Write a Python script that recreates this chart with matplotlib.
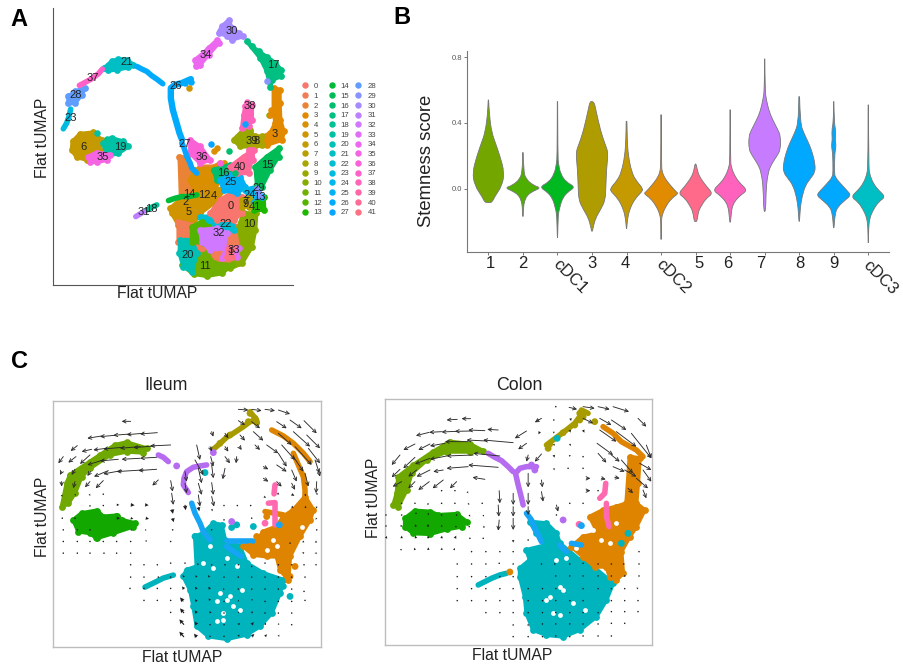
import matplotlib
matplotlib.use("Agg")
import matplotlib.pyplot as plt
from matplotlib.path import Path
from matplotlib.patches import PathPatch
import numpy as np

plt.rcParams['font.family'] = ['Liberation Sans', 'DejaVu Sans']

W, H = 904, 668

# ---- panel A: outline of each cluster (tUMAP coordinates)
A0 = [(630,640),(660,600),(700,575),(725,590),(725,640),(700,660),(650,660)]
A1 = [(535,665),(600,680),(640,670),(725,680),(745,740),(715,790),(650,815),(620,770),(590,760),(535,725)]
A2 = [(538,470),(560,475),(565,520),(580,530),(600,500),(640,500),(660,490),(650,540),(610,600),(560,610),(542,590)]
A3 = [(820,265),(838,270),(838,310),(840,360),(850,395),(845,420),(800,435),(770,420),(810,400),(825,370),(820,330)]
A4 = [(585,510),(640,505),(670,490),(660,540),(630,590),(590,590),(570,540)]
A5 = [(510,625),(540,600),(585,590),(610,590),(650,570),(680,560),(640,610),(600,640),(575,680),(535,675),(515,640)]
A6 = [(218,425),(240,402),(280,398),(305,420),(300,450),(270,462),(262,480),(230,472),(215,450)]
A7 = [(725,600),(745,595),(745,620),(725,620)]
A8 = [(765,410),(785,410),(785,435),(755,445)]
A9 = [(700,420),(730,390),(750,390),(765,420),(750,440),(720,440)]
A10 = [(730,640),(768,640),(765,690),(755,740),(725,790),(690,805),(725,735),(715,680)]
A11 = [(545,795),(575,770),(620,760),(640,790),(695,795),(665,820),(620,828),(580,822)]
A12 = [(575,680),(605,665),(625,680),(600,700),(610,730),(575,725)]
A13 = [(765,600),(790,590),(792,630),(760,630)]
A14 = [(505,602),(525,595),(545,590),(565,590),(590,585)]
A15 = [(835,445),(835,470),(810,510),(785,560),(770,555),(765,500),(800,470)]
A16 = [(640,510),(690,495),(700,530),(650,540)]
A17 = [(740,125),(755,140),(775,155),(800,172),(825,190),(842,210),(842,230),(815,240),(810,262),(800,215),(780,175)]
A18 = [(440,630),(455,622),(470,615)]
A19 = [(310,430),(335,415),(370,425),(385,440),(355,460),(320,468)]
A20 = [(540,720),(575,720),(590,760),(575,815),(550,800),(538,760)]
A21 = [(312,205),(335,185),(355,178),(380,180),(400,195),(385,203),(350,210),(325,212)]
A22 = [(600,650),(640,650),(700,655),(700,690),(640,685)]
A23 = [(190,387),(200,370),(207,350),(212,328)]
A24 = [(735,570),(770,560),(785,590),(750,600)]
A25 = [(660,540),(690,525),(720,530),(735,560),(710,580),(670,570)]
A26 = [(410,200),(425,208),(440,215),(455,228),(470,238),(488,252)]
A26b = [(572,238),(545,250),(525,255),(512,265),(512,295),(518,330),(528,365),(538,400),(545,418)]
A27 = [(545,430),(552,445),(560,470),(570,490),(575,505),(590,520)]
A28 = [(205,310),(205,290),(225,275),(255,265),(245,285),(225,310)]
A29 = [(770,565),(780,590)]
A30 = [(685,62),(695,85),(715,100),(728,110),(695,120),(680,108),(655,100),(665,80)]
A31 = [(407,650),(420,642),(430,636)]
A32 = [(600,690),(650,685),(680,700),(670,745),(630,750),(605,725)]
A33 = [(680,745),(715,745),(710,770),(665,775)]
A34 = [(588,200),(585,180),(610,160),(625,145),(650,122),(655,130),(625,165),(600,195)]
A35 = [(265,470),(290,458),(330,465),(320,480),(290,487),(270,485)]
A36 = [(570,420),(600,440),(630,480),(600,490),(570,460)]
A37 = [(238,257),(255,248),(275,237),(295,222),(307,208)]
A38 = [(735,320),(755,315),(755,360),(745,380),(725,385),(730,345)]
A39 = [(745,450),(758,450),(758,480),(745,485)]
A40 = [(690,500),(730,470),(760,450),(745,520),(710,520)]
A41 = [(685,745),(698,745),(695,770),(680,770)]
clusters_a = [A0,A1,A2,A3,A4,A5,A6,A7,A8,A9,A10,A11,A12,A13,A14,A15,A16,A17,A18,A19,A20,
              A21,A22,A23,A24,A25,A26,A27,A28,A29,A30,A31,A32,A33,A34,A35,A36,A37,A38,A39,A40,A41]
# clusters that are a thin trail of cells rather than an area
trail_clusters = [14,18,23,26,27,29,31,37]
a_draw_order = [2,4,5,1,10,11,20,22,12,32,0,33,41,16,25,40,13,24,7,9,36,15,3,8,39,38,6,19,35,17,21,28,30,34,14,18,23,26,27,29,31,37]

# loose single cells: cluster, x, y
a_loose_k = [26,26,5,4,27,4,16,18,19,19,27,29,30,10,36,3,15,3,16,38]
a_loose_x = [572,555,565,650,632,640,685,320,290,330,733,800,660,805,660,808,790,812,705,740]
a_loose_y = [248,250,265,445,432,452,452,417,400,417,373,243,95,345,490,345,510,330,520,308]

label_x = [690,690,557,823,640,566,249,737,770,737,747,613,612,778,567,801,670,818,455,361,562,380,677,211,747,690,526,553,227,775,695,430,655,700,617,307,605,279,749,755,719,763]
label_y = [617,757,605,403,587,636,440,605,425,612,671,798,586,590,583,496,520,197,627,440,765,187,672,356,586,547,258,432,285,565,95,637,699,750,167,471,472,236,320,423,500,621]

# ---- panel B: violins, score levels and half widths
groups = ["1","2","cDC1","3","4","cDC2","5","6","7","8","9","cDC3"]
violin_colors = ["#74A600","#4EAF00","#00B81F","#AE9C00","#C49A00","#E08B00",
                 "#FF6A8A","#FF62BC","#C77CFF","#00A9FF","#00A9FF","#00BFC4"]
v1_y = [0.54,0.44,0.34,0.28,0.195,0.10,0.02,-0.05,-0.085,-0.085]
v1_w = [0.005,0.03,0.10,0.20,0.34,0.46,0.40,0.18,0.10,0.0]
v2_y = [0.22,0.11,0.06,0.02,0.005,-0.015,-0.04,-0.08,-0.11,-0.17]
v2_w = [0.005,0.02,0.08,0.30,0.52,0.30,0.12,0.04,0.02,0.005]
v3_y = [0.53,0.20,0.15,0.09,0.04,0.01,-0.02,-0.06,-0.12,-0.16,-0.30]
v3_w = [0.005,0.01,0.03,0.09,0.25,0.52,0.30,0.14,0.06,0.02,0.005]
v4_y = [0.53,0.53,0.48,0.35,0.27,0.22,0.12,0.0,-0.07,-0.12,-0.18,-0.24,-0.26]
v4_w = [0.0,0.06,0.11,0.25,0.38,0.47,0.42,0.40,0.38,0.27,0.10,0.03,0.01]
v5_y = [0.41,0.30,0.20,0.10,0.05,0.0,-0.02,-0.06,-0.12,-0.18,-0.245]
v5_w = [0.01,0.02,0.05,0.15,0.27,0.48,0.44,0.25,0.10,0.03,0.005]
v6_y = [0.45,0.15,0.10,0.06,0.02,-0.02,-0.03,-0.06,-0.11,-0.16,-0.20,-0.31]
v6_w = [0.005,0.01,0.03,0.12,0.27,0.44,0.50,0.30,0.13,0.03,0.01,0.005]
v7_y = [0.15,0.15,0.10,0.06,0.01,-0.03,-0.06,-0.11,-0.14,-0.20,-0.20]
v7_w = [0.0,0.02,0.06,0.15,0.33,0.50,0.30,0.15,0.08,0.04,0.0]
v8_y = [0.48,0.18,0.13,0.07,0.03,-0.01,-0.04,-0.08,-0.12,-0.16,-0.205]
v8_w = [0.005,0.01,0.03,0.15,0.30,0.50,0.30,0.12,0.05,0.03,0.01]
v9_y = [0.79,0.60,0.54,0.47,0.42,0.36,0.32,0.24,0.20,0.15,0.10,0.0,-0.14]
v9_w = [0.005,0.01,0.05,0.13,0.23,0.38,0.46,0.46,0.36,0.20,0.10,0.04,0.03]
v10_y = [0.56,0.40,0.34,0.28,0.22,0.15,0.10,0.06,0.02,-0.05,-0.12,-0.20]
v10_w = [0.01,0.03,0.13,0.27,0.38,0.46,0.46,0.32,0.18,0.08,0.03,0.01]
v11_y = [0.53,0.41,0.35,0.30,0.26,0.22,0.10,0.07,0.03,-0.01,-0.04,-0.07,-0.11,-0.15,-0.24]
v11_w = [0.005,0.01,0.06,0.04,0.07,0.03,0.02,0.04,0.20,0.38,0.50,0.33,0.12,0.04,0.01]
v12_y = [0.51,0.13,0.08,0.03,-0.01,-0.05,-0.08,-0.13,-0.18,-0.24,-0.33]
v12_w = [0.005,0.01,0.05,0.15,0.30,0.50,0.30,0.14,0.04,0.01,0.005]
violin_y = [v1_y,v2_y,v3_y,v4_y,v5_y,v6_y,v7_y,v8_y,v9_y,v10_y,v11_y,v12_y]
violin_w = [v1_w,v2_w,v3_w,v4_w,v5_w,v6_w,v7_w,v8_w,v9_w,v10_w,v11_w,v12_w]

# ---- panel C colours
c_olive, c_green, c_purple, c_gold = "#6FA800", "#12A800", "#B56CF0", "#A89B00"
c_orange, c_blue, c_pink, c_teal = "#DE8400", "#16A4F4", "#FF69B0", "#00B4BE"

# ---- panel C: ileum areas, trails, gaps
il_areas = [("teal", [(640,520),(665,525),(675,570),(720,590),(740,640),(790,670),(850,690),(840,730),(815,790),(780,830),(740,855),(680,868),(625,860),(590,830),(580,770),(570,720),(550,680),(560,660),(590,650),(585,560),(610,550)]),
            ("olive", [(185,472),(200,400),(210,375),(270,335),(300,315),(345,285),(380,277),(440,295),(430,308),(380,305),(330,315),(270,355),(245,380),(225,430),(205,460)]),
            ("green", [(220,510),(245,490),(290,482),(310,500),(350,497),(365,510),(405,520),(400,530),(340,550),(290,565),(270,550),(235,545)]),
            ("orange", [(915,440),(940,480),(930,510),(900,560),(870,620),(865,690),(840,660),(830,620),(800,620),(760,615),(730,590),(770,575),(790,545),(830,530),(850,500),(880,480)])]
il_trails = [("purple", [(475,315),(490,322),(505,335)]),
             ("purple", [(620,345),(600,348),(580,352),(560,365),(552,385),(550,405),(565,428)]),
             ("gold", [(640,298),(655,285),(680,262),(700,250),(730,230),(750,215),(770,210),(750,185)]),
             ("orange", [(815,240),(850,258),(880,280),(910,310),(930,335)]),
             ("orange", [(880,310),(895,345),(910,380),(915,420),(915,445)]),
             ("orange", [(795,485),(850,495)]),
             ("blue", [(575,460),(585,490),(600,520),(610,545),(630,570)]),
             ("blue", [(680,590),(700,605),(725,620)]),
             ("blue", [(680,575),(760,575)]),
             ("pink", [(825,405),(822,432)]),
             ("pink", [(805,460),(825,458),(825,525)]),
             ("teal", [(435,712),(460,700),(490,685),(520,676)])]
il_dots_c = ["teal","teal","teal","teal","purple","purple","purple","olive","pink","blue",
             "orange","orange","orange","orange","orange","orange","gold","gold","gold","gold","gold","gold",
             "teal","teal","teal","green","green","olive","olive"]
il_dots_x = [615,710,695,760,530,640,695,320,795,838,
             780,750,870,885,800,770,750,765,745,770,690,660,
             585,850,870,350,290,235,215]
il_dots_y = [368,525,533,530,348,308,515,310,520,525,
             600,590,680,650,500,560,190,205,215,218,255,280,
             560,710,740,500,565,365,400]
il_gaps_x = [680,700,670,650,725,710,680,630,720,660,610,640,690,670,820,800,830,905,650]
il_gaps_y = [750,770,790,815,720,650,625,590,780,730,640,655,740,810,570,600,590,530,755]
il_arrows = [(715,178,745,180),(755,178,785,182),(795,178,825,182),(835,180,870,192),(392,214,365,214),
             (715,212,735,225),(755,215,780,235),(830,215,860,235),(870,210,905,235),(912,212,950,250),
             (472,248,420,252),(430,250,380,254),(390,252,340,256),(345,256,300,260),(305,258,262,265),
             (635,245,640,260),(675,250,685,265),(720,255,735,272),(760,245,790,272),(835,250,875,285),(880,245,930,290),(920,255,960,295),
             (512,285,450,288),(465,288,400,293),(420,290,360,295),(370,292,310,297),(320,295,280,300),(275,298,245,305),(232,287,212,303),
             (590,285,600,330),(630,290,635,305),(675,290,685,305),(718,290,725,300),(765,285,780,300),(800,285,835,310),(845,285,885,330),(885,290,935,345),(925,295,960,340),
             (190,320,175,340),(228,320,205,338),(270,315,240,342),(470,322,420,325),(420,325,365,328),(355,328,300,333),(310,330,262,345),
             (585,330,610,375),(632,320,640,350),(675,320,690,340),(710,320,708,340),(835,310,860,350),(880,320,910,365),(945,330,958,370),
             (470,358,415,362),(430,360,350,365),(365,362,310,372),(325,362,282,380),(272,365,262,378),(225,358,215,375),(185,365,180,375),
             (555,365,560,395),(595,355,605,400),(635,345,640,385),(675,355,668,388),(790,350,805,358),(830,345,860,365),(875,360,890,395),(915,370,925,410),(955,360,960,380),
             (185,395,185,410),(225,395,220,415),(270,395,255,412),(310,392,287,415),(475,390,457,407),(512,392,518,425),(555,400,560,430),(595,400,605,435),(635,398,640,435),(790,385,805,395),(830,395,845,410),(875,400,885,420),(950,395,948,430),
             (515,430,520,465),(595,435,600,470),(635,440,642,470)]
il_small = [(185,435,2,6),(225,433,2,5),(268,433,3,5),(310,433,0,1),(350,465,8,0),(392,465,12,1),(435,465,11,1),(270,468,5,0),(310,467,3,0),(187,505,0,1),(225,505,4,0),(350,505,10,0),(392,505,8,2),(437,505,10,2),(516,478,3,14),(518,505,3,12),(555,465,2,16),(595,472,3,12),(635,478,3,6),(672,467,0,0),(712,467,0,0),(752,467,2,1),(792,440,6,4),(832,430,6,4),(875,433,8,5),(915,433,3,6),(950,430,2,6),
            (190,540,0,-2),(232,540,0,-2),(270,540,0,-2),(392,540,5,1),(435,540,5,1),(518,540,2,4),(635,540,2,2),(672,510,2,2),(755,505,5,0),(875,470,6,4),(915,470,4,5),(950,470,-1,6),(950,505,-4,4),(950,540,-4,3),
            (190,575,0,-3),(232,575,0,-3),(270,575,0,-1),(310,575,0,0),(350,575,0,0),(392,575,2,1),(437,575,4,-4),(512,575,0,0),(950,575,-6,3),(912,575,-6,2),(870,580,-3,-2),
            (190,610,0,-1),(232,610,0,-3),(270,610,0,-1),(312,610,0,0),(350,610,0,0),(392,610,0,0),(950,610,-6,0),(912,610,-6,-2),
            (392,645,0,0),(432,645,1,-2),(472,645,0,-2),(512,640,3,-3),(555,640,3,-3),(595,645,-4,-5),(635,645,-3,-4),(675,645,0,-3),(715,645,0,-3),(755,650,0,-3),(795,640,0,-3),(835,645,0,-3),(875,645,-2,-3),(950,645,-6,0),(912,645,-4,-2),
            (392,682,0,0),(432,682,2,0),(475,682,2,0),(512,682,3,-4),(552,682,-4,-6),(590,682,-4,-6),(628,682,-4,-6),(672,682,-2,-4),(715,682,0,-3),(755,682,0,-3),(795,682,0,-3),(835,682,0,-4),(875,682,-2,-3),(915,682,-4,-3),
            (390,716,0,0),(432,716,2,0),(472,716,2,-1),(512,716,2,-2),(552,718,-6,-8),(590,718,-5,-7),(630,718,-5,-7),(672,720,-3,-5),(715,718,0,-3),(755,718,1,-3),(795,718,0,-3),(835,718,0,-4),(875,718,0,-3),(912,725,-4,-3),
            (432,752,0,0),(472,752,0,-2),(512,752,0,-2),(550,755,-10,-12),(590,755,-5,-7),(630,752,-4,-6),(672,755,-2,-4),(715,755,1,-5),(755,752,2,-5),(795,755,0,-3),(835,755,0,-3),(875,755,0,-3),(915,752,0,-5),
            (512,788,0,-3),(552,790,-12,-14),(590,790,-6,-8),(632,790,-4,-6),(672,790,0,-3),(715,790,2,-5),(755,790,3,-6),(795,790,3,-4),(835,790,0,-5),(875,790,0,-5),
            (552,825,-14,-16),(590,825,-6,-10),(630,825,-3,-4),(672,825,0,-3),(715,825,4,-6),(755,825,6,-8),(795,825,3,-6),(835,825,2,-5),(875,825,0,-5),
            (552,862,-14,-16),(590,862,-8,-10),(630,860,-3,-4),(672,860,-1,-3),(715,860,3,-6),(755,860,8,-7),(795,860,6,-6),(835,860,3,-5)]

# ---- panel C: colon areas, trails, gaps
co_areas = [("teal", [(540,455),(590,460),(620,490),(630,520),(690,570),(730,590),(790,640),(770,690),(740,740),(690,780),(640,800),(590,795),(550,780),(530,730),(525,680),(510,620),(510,595),(540,570),(530,540),(590,525),(560,490)]),
            ("olive", [(130,405),(140,370),(145,320),(190,285),(250,245),(300,215),(360,222),(400,243),(360,245),(290,245),(230,270),(185,310),(170,360),(145,410)]),
            ("green", [(165,445),(195,422),(240,425),(265,435),(320,432),(350,455),(335,470),(290,478),(240,492),(190,490),(165,470)]),
            ("orange", [(840,260),(870,265),(865,340),(860,400),(885,420),(860,470),(840,500),(815,545),(820,610),(800,630),(780,620),(770,590),(735,590),(700,560),(665,530),(700,500),(745,490),(720,440),(760,420),(800,410),(830,400)])]
co_trails = [("purple", [(415,250),(435,262),(455,272),(475,290),(490,305)]),
             ("purple", [(560,290),(530,290),(510,295),(497,310),(505,345),(512,372),(520,405)]),
             ("gold", [(590,225),(610,210),(630,195),(650,180),(675,160),(690,140),(695,120),(715,130)]),
             ("orange", [(760,170),(790,190),(815,215),(860,240),(880,260)]),
             ("blue", [(530,430),(545,450),(555,475),(575,515)]),
             ("blue", [(630,525),(650,545)]),
             ("blue", [(665,520),(695,525)]),
             ("pink", [(768,340),(765,370),(750,385)]),
             ("pink", [(770,400),(770,440),(778,470)]),
             ("teal", [(385,645),(405,635),(425,625),(450,615),(470,610)])]
co_dots_c = ["orange","purple","pink","blue","gold","teal","teal","teal",
             "gold","gold","gold","gold","gold","gold","gold","purple","purple"]
co_dots_x = [480,640,688,695,735,622,815,835,
             690,700,690,675,600,595,640,555,545]
co_dots_y = [606,450,463,467,155,205,520,490,
             130,140,150,165,222,235,188,300,285]
co_gaps_x = [600,630,610,670,630,590,620,650,780,755,800,730,680,640,705]
co_gaps_y = [680,735,730,700,650,690,570,565,520,510,460,480,535,660,720]
co_arrows = [(658,112,682,118),(700,110,735,115),(745,110,780,118),(790,110,838,125),(322,148,290,150),(362,146,335,146),(575,145,555,157),
             (700,145,730,160),(750,145,785,165),(785,150,830,180),(865,145,890,170),
             (445,180,412,178),(405,182,355,180),(365,183,315,184),(320,184,275,186),(275,185,238,187),(238,187,198,197),(530,183,495,205),(750,180,800,215),(800,185,860,230),(845,190,905,265),
             (490,218,400,210),(410,213,350,210),(355,215,285,215),(285,220,240,228),(240,222,205,240),(195,222,160,240),(530,220,505,238),(742,220,790,255),(890,225,905,265),
             (450,258,370,250),(370,255,290,258),(290,258,240,268),(240,265,195,282),(195,262,160,295),(150,255,125,285),(535,255,530,275),(575,252,555,275),(745,250,770,278),(785,255,810,275),(815,270,850,310),(870,280,905,300),
             (445,292,355,285),(355,290,290,295),(280,300,250,305),(240,300,200,320),(200,300,175,320),(150,298,125,322),(790,290,825,305),(825,300,860,320),(880,300,905,335),
             (405,328,368,322),(320,335,300,355),(280,330,248,355),(238,335,205,360),(195,335,175,355),(155,335,128,350),(535,310,535,352),(575,330,578,352),(710,325,722,325),(755,325,768,328),(795,322,810,325),(860,325,895,355),
             (448,362,450,400),(490,370,490,405),(535,370,535,405),(575,365,580,395),(710,362,722,362),(835,355,850,370),(880,360,890,385),
             (490,410,490,440),(445,405,447,440),(490,445,490,480),(448,450,445,482),(620,405,625,425),(535,410,535,435)]
co_small = [(618,110,0,0),(565,150,-2,4),(612,150,-2,4),(662,145,2,8),(570,185,-4,8),(612,185,0,6),(660,180,2,8),(700,180,4,8),
            (612,222,2,6),(660,222,3,6),(700,260,0,0),(655,295,0,0),(612,255,2,8),(660,255,0,6),(612,295,2,6),(700,295,0,0),
            (275,362,4,1),(315,362,0,0),(352,365,3,5),(397,400,2,4),(355,400,3,5),(315,400,0,2),(275,400,0,3),(235,400,-2,6),(195,400,0,4),(155,400,-2,4),
            (108,435,0,4),(155,435,0,-4),(198,430,0,5),(235,430,0,6),(275,435,1,4),(320,435,2,3),(358,435,3,5),(400,435,2,5),(620,435,2,2),(660,400,0,0),(700,400,2,3),(745,362,0,0),
            (108,470,0,-6),(155,470,-3,-6),(198,470,-3,-7),(235,470,-2,-8),(275,470,1,-6),(318,470,3,-4),(358,470,5,0),(400,470,6,2),
            (108,505,3,-7),(155,505,0,-8),(198,505,-2,-8),(235,505,-1,-8),(275,505,1,-8),(315,505,4,-8),(360,505,2,0),(400,505,0,0),(490,510,0,8),(535,510,0,2),
            (155,540,-5,-3),(195,540,-2,-7),(235,540,0,-8),(275,540,1,-7),(312,540,3,-6),(365,545,0,0),(408,545,2,0),(450,545,3,0),(490,545,0,3),(868,545,0,0),
            (322,582,0,0),(365,582,0,0),(408,582,0,0),(448,580,1,0),(490,582,0,0),(575,582,1,0),(615,582,0,0),(660,582,0,0),(700,580,0,0),(745,582,0,0),(785,582,0,0),(822,582,-3,0),(868,582,-3,0),
            (322,620,0,0),(365,620,0,0),(408,620,0,0),(450,620,3,0),(490,620,3,-1),(618,618,0,0),(660,618,0,0),(700,618,0,0),(745,618,0,0),(785,618,0,0),(825,618,-3,0),(868,618,-3,0),
            (322,656,0,0),(365,656,0,0),(408,656,0,0),(450,656,1,0),(490,656,0,0),(535,656,-2,0),(578,656,0,0),(618,656,0,0),(700,656,0,0),(745,656,0,0),(785,656,0,0),(825,656,0,-4),(865,656,-5,-3),
            (322,692,0,0),(365,692,0,0),(408,692,0,0),(450,692,0,0),(490,692,0,0),(535,692,0,0),(578,692,0,0),(618,692,0,0),(660,692,0,0),(700,692,0,0),(785,692,0,-3),(825,692,0,-3),(865,692,-2,-3),
            (408,728,0,0),(450,728,0,0),(490,728,0,0),(535,728,0,-2),(578,728,0,0),(618,728,0,0),(660,728,0,0),(700,728,0,0),(745,728,0,0),(785,725,3,-4),(825,725,0,-2),(865,725,0,-2),
            (490,765,0,-3),(535,765,0,-3),(578,762,-2,-3),(618,762,0,-3),(660,762,0,0),(700,762,0,0),(745,762,0,-2),(785,760,1,-4),(825,760,0,-3),
            (490,800,0,-3),(535,800,0,-3),(578,800,0,-3),(618,798,-1,-3),(660,800,0,-3),(700,798,0,-3),(745,798,0,-4),(785,798,1,-4)]

c_colors = {"olive": c_olive, "green": c_green, "purple": c_purple, "gold": c_gold,
            "orange": c_orange, "blue": c_blue, "pink": c_pink, "teal": c_teal}


def hue_color(i, n):
    # same wheel ggplot uses, hcl with c=100 l=65
    h = np.deg2rad(15 + 360 * i / n)
    L, C = 65.0, 100.0
    Y = ((L + 16) / 116) ** 3
    up = C * np.cos(h) / (13 * L) + 0.19793
    vp = C * np.sin(h) / (13 * L) + 0.46831
    X = 9 * Y * up / (4 * vp)
    Z = (12 - 3 * up - 20 * vp) * Y / (4 * vp)
    rgb = np.array([3.2406 * X - 1.5372 * Y - 0.4986 * Z,
                    -0.9689 * X + 1.8758 * Y + 0.0415 * Z,
                    0.0557 * X - 0.2040 * Y + 1.0570 * Z])
    rgb = np.clip(rgb, 0, 1)
    return tuple(np.where(rgb <= 0.0031308, 12.92 * rgb, 1.055 * rgb ** (1 / 2.4) - 0.055))


def px_axes(fig, left, top, right, bottom):
    return fig.add_axes([left / W, 1 - bottom / H, (right - left) / W, (bottom - top) / H])


def put(fig, x, y, s, **kw):
    fig.text(x / W, 1 - y / H, s, ha="center", va="center", **kw)


def draw_area(ax, pts, color):
    xs, ys = zip(*pts)
    ax.fill(xs, ys, facecolor=color, edgecolor=color, linewidth=3, joinstyle="round", zorder=2)
    ax.scatter(xs, ys, s=24, color=color, linewidths=0, zorder=2)


def draw_trail(ax, pts, color, lw=4.0):
    xs, ys = zip(*pts)
    ax.plot(xs, ys, color=color, lw=lw, solid_capstyle="round", solid_joinstyle="round", zorder=2)


def violin_path(x, ys, ws):
    # quadratic smoothing between the read levels, down the right side and back up the left
    pts = [(x + w, y) for y, w in zip(ys, ws)] + [(x - w, y) for y, w in zip(ys[::-1], ws[::-1])]
    verts = [pts[0]]
    codes = [Path.MOVETO]
    for i in range(1, len(pts) - 1):
        mid = ((pts[i][0] + pts[i + 1][0]) / 2, (pts[i][1] + pts[i + 1][1]) / 2)
        verts += [pts[i], mid]
        codes += [Path.CURVE3, Path.CURVE3]
    verts += [pts[-1], pts[0]]
    codes += [Path.LINETO, Path.CLOSEPOLY]
    return Path(verts, codes)


fig = plt.figure(figsize=(W / 100, H / 100), dpi=100)

# A
ax = px_axes(fig, 53.3, 8, 293, 285)
ax.set_xlim(160, 878)
ax.set_ylim(855, 25)
for k in a_draw_order:
    if k in trail_clusters:
        draw_trail(ax, clusters_a[k], hue_color(k, 42))
    else:
        draw_area(ax, clusters_a[k], hue_color(k, 42))
draw_trail(ax, A26b, hue_color(26, 42), lw=4.6)
for k, lx, ly in zip(a_loose_k, a_loose_x, a_loose_y):
    ax.scatter([lx], [ly], s=22, color=hue_color(k, 42), linewidths=0, zorder=2)
for k in range(42):
    ax.text(label_x[k], label_y[k], str(k), fontsize=8, ha="center", va="center", color="#222222", zorder=4)
ax.spines[["top", "right"]].set_visible(False)
for side in ["left", "bottom"]:
    ax.spines[side].set_color("#555555")
ax.set_xticks([])
ax.set_yticks([])
handles = [plt.Line2D([], [], ls="", marker="o", ms=3.6, color=hue_color(k, 42)) for k in range(42)]
fig.legend(handles, [str(k) for k in range(42)], ncol=3, frameon=False, fontsize=5.6, labelcolor="#444444",
           loc="center left", bbox_to_anchor=(300 / W, 1 - 149.5 / H), labelspacing=0.29,
           columnspacing=0.55, handletextpad=0.58, handlelength=1.2, borderpad=0, borderaxespad=0)
put(fig, 157, 293, "Flat tUMAP", fontsize=11.3, color="#222222")
put(fig, 43, 138, "Flat tUMAP", fontsize=11.3, rotation=90, color="#222222")

# B
ax = px_axes(fig, 467, 50.7, 889, 251.7)
ax.set_xlim(0.38, 12.6)
ax.set_ylim(-0.384, 0.84)
for i, (ys, ws) in enumerate(zip(violin_y, violin_w)):
    ax.add_patch(PathPatch(violin_path(i + 1, ys, ws), facecolor=violin_colors[i], edgecolor="#777777", linewidth=0.6))
ax.spines[["top", "right"]].set_visible(False)
for side in ["left", "bottom"]:
    ax.spines[side].set_color("#777777")
ax.set_yticks([0.0, 0.4, 0.8], ["0.0", "0.4", "0.8"])
ax.tick_params(axis="y", labelsize=5.5, labelcolor="#555555", color="#777777", length=2, width=0.7, pad=1.5)
ax.set_xticks(range(1, 13), [""] * 12)
ax.tick_params(axis="x", color="#777777", length=2, width=0.7)
tick_text_x = [490,522.5,570,592,625,673,699,727.5,761,799.5,834,880]
tick_text_y = [263,263,277,263,263,277,263,263,263,263,263,278]
for s, tx, ty in zip(groups, tick_text_x, tick_text_y):
    put(fig, tx, ty, s, fontsize=12, rotation=-45 if s.startswith("c") else 0, color="#222222")
put(fig, 427, 161, "Stemness score", fontsize=13.3, rotation=90, color="#222222")

# C
ax_il = px_axes(fig, 53.3, 400.7, 320.7, 647)
ax_il.set_xlim(160, 962)
ax_il.set_ylim(892, 152)
ax_co = px_axes(fig, 385, 399, 652, 645.3)
ax_co.set_xlim(105, 907)
ax_co.set_ylim(826, 87)

panels = [(ax_il, il_areas, il_trails, il_dots_c, il_dots_x, il_dots_y, il_gaps_x, il_gaps_y, il_arrows, il_small),
          (ax_co, co_areas, co_trails, co_dots_c, co_dots_x, co_dots_y, co_gaps_x, co_gaps_y, co_arrows, co_small)]
for ax, areas, trails, dc, dx, dy, gx, gy, arrows, small in panels:
    for name, pts in areas:
        draw_area(ax, pts, c_colors[name])
    ax.scatter(gx, gy, s=12, color="white", linewidths=0, zorder=2)
    for name, pts in trails:
        draw_trail(ax, pts, c_colors[name])
    ax.scatter(dx, dy, s=24, color=[c_colors[n] for n in dc], linewidths=0, zorder=2)
    for x0, y0, x1, y1 in arrows:
        ax.annotate("", xy=(x1, y1), xytext=(x0, y0), annotation_clip=False, zorder=3,
                    arrowprops=dict(arrowstyle="->", lw=0.65, color="#2a2a2a", mutation_scale=6, shrinkA=0, shrinkB=0))
    sx, sy, su, sv = zip(*small)
    ax.quiver(sx, sy, su, sv, angles="xy", scale_units="xy", scale=1, color="#1c1c1c", width=0.0042,
              headwidth=4, headlength=4, headaxislength=3.5, minlength=1.5, zorder=3)
    ax.set_xticks([])
    ax.set_yticks([])
    for side in ax.spines.values():
        side.set_color("#BDBDBD")
        side.set_linewidth(1)

put(fig, 166, 385, "Ileum", fontsize=12.8, color="#222222")
put(fig, 519, 385, "Colon", fontsize=12.8, color="#222222")
put(fig, 182, 657, "Flat tUMAP", fontsize=11.3, color="#222222")
put(fig, 512, 656, "Flat tUMAP", fontsize=11.3, color="#222222")
put(fig, 43, 517, "Flat tUMAP", fontsize=11.3, rotation=90, color="#222222")
put(fig, 374, 498, "Flat tUMAP", fontsize=11.3, rotation=90, color="#222222")

put(fig, 19, 19, "A", fontsize=17, fontweight="bold", color="black")
put(fig, 402, 18, "B", fontsize=17, fontweight="bold", color="black")
put(fig, 19, 361, "C", fontsize=17, fontweight="bold", color="black")

fig.savefig("out.png", dpi=100)
